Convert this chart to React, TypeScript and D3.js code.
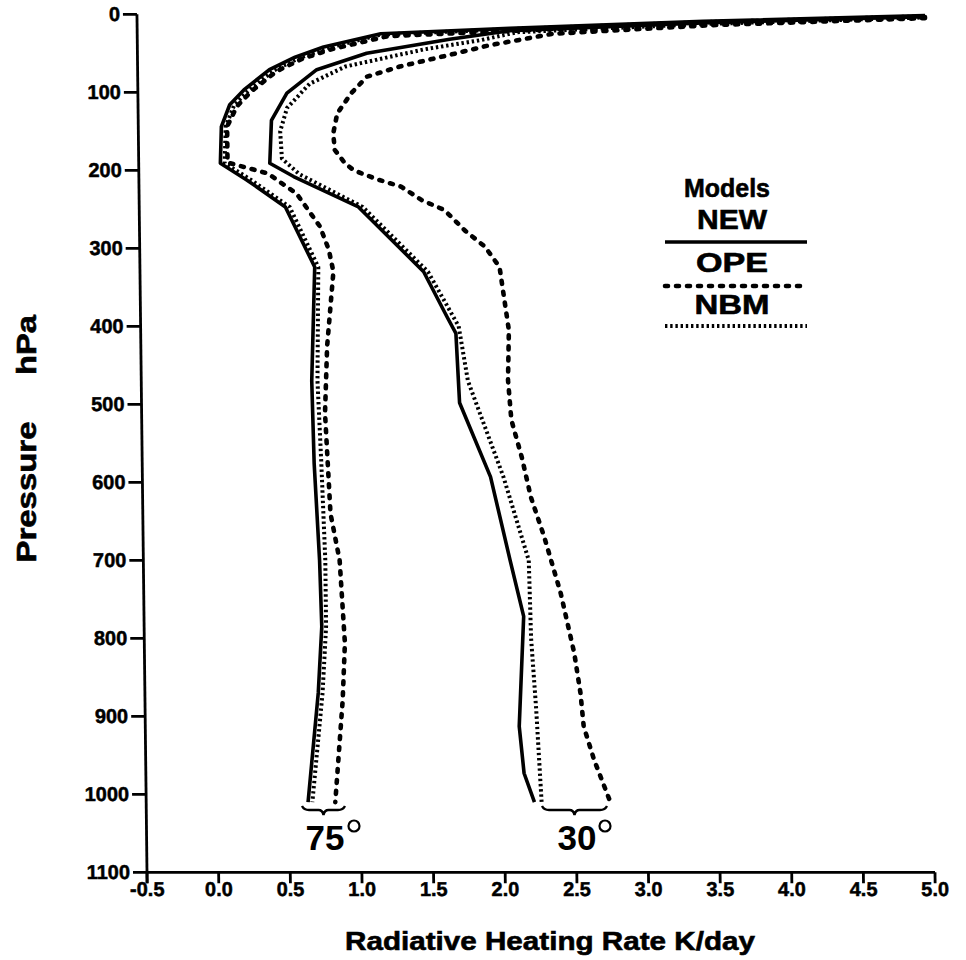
import React from 'react';
import * as d3 from 'd3';

const pressureTicks = [0, 100, 200, 300, 400, 500, 600, 700, 800, 900, 1000, 1100];
const heatTicks = [-0.5, 0, 0.5, 1, 1.5, 2, 2.5, 3, 3.5, 4, 4.5, 5];

// 75° latitude
const new75P = [1.5, 9, 18, 25, 42, 55, 71, 97, 116, 144, 191, 212, 247, 324, 470, 575, 700, 785, 870, 1010];
const new75H = [5.0, 3.45, 2.1, 1.2, 0.8, 0.6, 0.42, 0.24, 0.14, 0.08, 0.07, 0.25, 0.52, 0.72, 0.69, 0.70, 0.73, 0.74, 0.71, 0.63];
const nbm75P = [2.5, 10, 19, 26, 43, 56, 72, 98, 117, 144, 191, 212, 247, 324, 470, 575, 700, 785, 870, 1010];
const nbm75H = [5.0, 3.45, 2.1, 1.2, 0.83, 0.63, 0.45, 0.27, 0.17, 0.11, 0.10, 0.28, 0.55, 0.745, 0.73, 0.75, 0.77, 0.77, 0.74, 0.66];
const ope75P = [3.5, 11.5, 21, 28, 45, 57, 73, 99, 118, 144, 190, 204, 230, 272, 302, 330, 426, 511, 640, 700, 806, 879, 1010];
const ope75H = [5.0, 3.45, 2.15, 1.25, 0.85, 0.65, 0.47, 0.29, 0.19, 0.12, 0.12, 0.40, 0.60, 0.76, 0.82, 0.85, 0.80, 0.78, 0.81, 0.87, 0.90, 0.88, 0.82];

// 30° latitude
const new30P = [3, 11, 21, 32, 50, 71, 101, 136, 191, 208, 247, 330, 388, 409, 498, 593, 700, 772, 913, 973, 1010];
const new30H = [5.0, 3.45, 2.1, 1.68, 1.10, 0.75, 0.54, 0.43, 0.415, 0.58, 1.03, 1.48, 1.64, 1.70, 1.72, 1.93, 2.06, 2.15, 2.11, 2.14, 2.21];
const nbm30P = [4, 12.5, 23, 33, 45, 55, 67, 89, 120, 150, 185, 205, 247, 330, 400, 470, 593, 700, 800, 892, 1010];
const nbm30H = [5.0, 3.45, 2.15, 1.9, 1.5, 1.25, 0.95, 0.70, 0.54, 0.49, 0.50, 0.62, 1.06, 1.51, 1.72, 1.78, 2.02, 2.19, 2.20, 2.23, 2.26];
const ope30P = [5, 14, 25, 40, 52, 67, 80, 101, 127, 153, 174, 191, 200, 212, 221, 238, 251, 277, 298, 324, 405, 469, 520, 568, 619, 670, 742, 819, 870, 913, 956, 1010];
const ope30H = [5.0, 3.5, 2.4, 1.95, 1.68, 1.33, 1.10, 0.99, 0.89, 0.86, 0.87, 0.94, 1.0, 1.17, 1.33, 1.47, 1.63, 1.77, 1.91, 2.01, 2.07, 2.06, 2.08, 2.15, 2.21, 2.30, 2.41, 2.50, 2.54, 2.56, 2.63, 2.74];

const legendModels = ['NEW', 'OPE', 'NBM'];
const latLabels = ['75', '30'];

const FONT = '"Liberation Sans", Arial, Helvetica, sans-serif';

const styles: Record<string, any> = {
  NEW: { strokeWidth: 3.6, dash: undefined, cap: 'butt' },
  OPE: { strokeWidth: 4.6, dash: '3 8', cap: 'round' },
  NBM: { strokeWidth: 4, dash: '2.4 2.8', cap: 'butt' },
};

export default function App() {
  const W = 966, H = 960;
  const x = d3.scaleLinear().domain([-0.5, 5]).range([147, 935]);
  const y = d3.scaleLinear().domain([0, 1100]).range([14.3, 872.3]);
  const k = 0.0117;
  const skewDeg = (Math.atan(k) * 180) / Math.PI;
  const baseY = y(1100);

  const line = d3.line<[number, number]>().x(d => x(d[0])).y(d => y(d[1]));
  const mk = (h: number[], p: number[]) => line(h.map((v, i) => [v, p[i]] as [number, number])) || '';

  const series = [
    { d: mk(new75H, new75P), s: styles.NEW },
    { d: mk(nbm75H, nbm75P), s: styles.NBM },
    { d: mk(ope75H, ope75P), s: styles.OPE },
    { d: mk(new30H, new30P), s: styles.NEW },
    { d: mk(nbm30H, nbm30P), s: styles.NBM },
    { d: mk(ope30H, ope30P), s: styles.OPE },
  ];

  const fmt = (v: number) => (v < 0 ? '-' : '') + Math.abs(v).toFixed(1);

  const brace = (x0: number, x1: number, yTop: number) => {
    const xm = (x0 + x1) / 2;
    const yb = yTop + 4;
    return `M${x0},${yTop} Q${x0 + 2},${yb} ${x0 + 7},${yb} L${xm - 5},${yb} Q${xm - 1},${yb} ${xm},${yb + 5} Q${xm + 1},${yb} ${xm + 5},${yb} L${x1 - 7},${yb} Q${x1 - 2},${yb} ${x1},${yTop}`;
  };

  const legendRows = [
    { name: legendModels[0], ty: 229, ly: 242, s: styles.NEW, tl: 70 },
    { name: legendModels[1], ty: 272, ly: 286, s: styles.OPE, tl: 72 },
    { name: legendModels[2], ty: 314, ly: 326, s: styles.NBM, tl: 75 },
  ];

  const latInfo = [
    { label: latLabels[0], x0: 302, x1: 345, tx: 325, dx: 354 },
    { label: latLabels[1], x0: 542, x1: 607, tx: 577, dx: 605 },
  ];

  return (
    <svg width={W} height={H} viewBox={`0 0 ${W} ${H}`}
      style={{ position: 'absolute', left: 0, top: 0, background: '#fff' }}
      fontFamily={FONT}>
      <rect x={0} y={0} width={W} height={H} fill="#fff" />
      <g transform={`translate(${-baseY * k},0) skewX(${skewDeg})`}>
        {/* axes */}
        <line x1={x(-0.5)} y1={y(0)} x2={x(-0.5)} y2={baseY + 11} stroke="#000" strokeWidth={2.8} />
        <line x1={x(-0.5)} y1={baseY} x2={x(5)} y2={baseY} stroke="#000" strokeWidth={2.8} />
        {pressureTicks.map(p => (
          <g key={'yp' + p}>
            <line x1={x(-0.5) - 14} x2={x(-0.5)} y1={y(p)} y2={y(p)} stroke="#000" strokeWidth={2.8} />
            <text x={x(-0.5) - 17} y={y(p) + 7} textAnchor="end" fontSize={20} fontWeight="bold"
              stroke="#000" strokeWidth={0.5}>{p}</text>
          </g>
        ))}
        {heatTicks.map(h => (
          <g key={'xh' + h}>
            <line x1={x(h)} x2={x(h)} y1={baseY} y2={baseY + 11} stroke="#000" strokeWidth={2.8} />
            <text x={x(h)} y={baseY + 24} textAnchor="middle" fontSize={20} fontWeight="bold"
              stroke="#000" strokeWidth={0.5}>{fmt(h)}</text>
          </g>
        ))}
        {/* curves */}
        {series.map((sr, i) => (
          <path key={i} d={sr.d} fill="none" stroke="#000" strokeWidth={sr.s.strokeWidth}
            strokeDasharray={sr.s.dash} strokeLinecap={sr.s.cap} strokeLinejoin="round" />
        ))}
      </g>

      {/* latitude braces and labels */}
      {latInfo.map(li => (
        <g key={li.label}>
          <path d={brace(li.x0, li.x1, 806)} fill="none" stroke="#000" strokeWidth={2.4} />
          <text x={li.tx} y={850} textAnchor="middle" fontSize={35} fontWeight="bold">{li.label}</text>
          <circle cx={li.dx} cy={826} r={5.5} fill="none" stroke="#000" strokeWidth={2.2} />
        </g>
      ))}

      {/* legend */}
      <text x={727} y={197} textAnchor="middle" fontSize={26} fontWeight="bold" textLength={86} lengthAdjust="spacingAndGlyphs"
        stroke="#000" strokeWidth={0.6}>Models</text>
      {legendRows.map(r => (
        <g key={r.name}>
          <text x={732} y={r.ty} textAnchor="middle" fontSize={27} fontWeight="bold" textLength={r.tl} lengthAdjust="spacingAndGlyphs"
            stroke="#000" strokeWidth={0.6}>{r.name}</text>
          <line x1={665} x2={807} y1={r.ly} y2={r.ly} stroke="#000" strokeWidth={r.s.strokeWidth}
            strokeDasharray={r.s.dash} strokeLinecap={r.s.cap} />
        </g>
      ))}

      {/* axis titles */}
      <text x={550} y={950} textAnchor="middle" fontSize={26} fontWeight="bold" textLength={410} lengthAdjust="spacingAndGlyphs"
        stroke="#000" strokeWidth={0.6}>Radiative Heating Rate K/day</text>
      <text transform="translate(36,492) rotate(-90)" textAnchor="middle" fontSize={27} fontWeight="bold" textLength={141} lengthAdjust="spacingAndGlyphs"
        stroke="#000" strokeWidth={0.6}>Pressure</text>
      <text transform="translate(36,345) rotate(-90)" textAnchor="middle" fontSize={27} fontWeight="bold" textLength={60} lengthAdjust="spacingAndGlyphs"
        stroke="#000" strokeWidth={0.6}>hPa</text>
    </svg>
  );
}
